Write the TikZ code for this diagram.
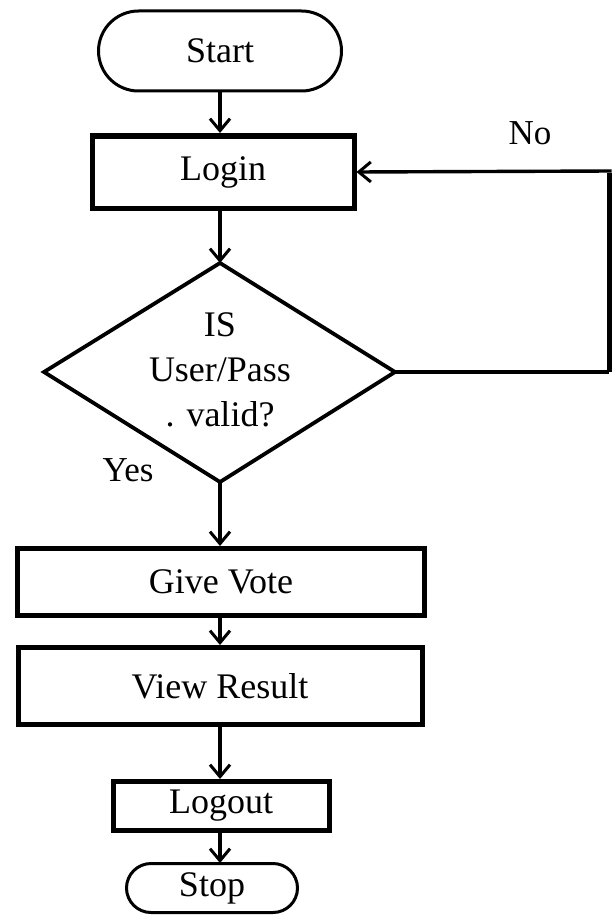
\documentclass[tikz,border=0pt]{standalone}
\usepackage{fontspec}
\setmainfont{Liberation Serif}
\usetikzlibrary{shapes.geometric,shapes.misc,arrows.meta}
\begin{document}
\begin{tikzpicture}[x=1pt,y=-1pt,
  every node/.style={font=\fontsize{36}{44}\selectfont, inner sep=0pt},
  terminal/.style={draw, line width=3pt, rounded rectangle},
  procbox/.style={draw, line width=5pt, rectangle},
  decision/.style={draw, line width=3.8pt, line join=miter},
  flow/.style={line width=3.4pt, -{Straight Barb[length=12pt,width=20pt,line width=3pt]}},
  lbl/.style={font=\fontsize{35}{40}\selectfont}]
\useasboundingbox[fill=white] (0,0) rectangle (611,915);
\node[terminal, minimum width=243, minimum height=80] (start) at (220,51) {Start};
\node[procbox, minimum width=262, minimum height=72] (login) at (223,172) {Login};
\coordinate (dtop) at (220,263);
\coordinate (dright) at (395,372);
\coordinate (dbottom) at (220,482);
\coordinate (dleft) at (44,372);
\draw[decision] (dtop) -- (dright) -- (dbottom) -- (dleft) -- cycle;
\node[align=center, font=\fontsize{36}{45}\selectfont] (dec) at (220,370) {IS\\User/Pass\\. valid?};
\node[procbox, minimum width=407, minimum height=67] (vote) at (221,582) {Give Vote};
\node[procbox, minimum width=404, minimum height=77] (view) at (220,686) {View Result};
\node[procbox, minimum width=216, minimum height=49] (logout) at (221,806) {Logout};
\node[terminal, minimum width=171, minimum height=49] (stop) at (212,888) {Stop};
\node[lbl] (no) at (530,133) {No};
\node[lbl] (yes) at (128,470) {Yes};
\coordinate (c1) at (609,372);
\coordinate (c2) at (609,171);
\draw[flow] (start.south -| 220,0) -- (220,133);
\draw[flow] (220,210) -- (dtop);
\draw[line width=4pt] (dright) -- (c1);
\draw[line width=5pt] (c1) -- ([yshift=-2pt]c2);
\draw[flow] ([xshift=2.5pt]c2) -- (login.east);
\draw[flow] (dbottom) -- (220,546);
\draw[flow] (220,618) -- (220,645);
\draw[flow] (220,727) -- (220,779);
\draw[flow] (220,833) -- (220,863);
\end{tikzpicture}
\end{document}
